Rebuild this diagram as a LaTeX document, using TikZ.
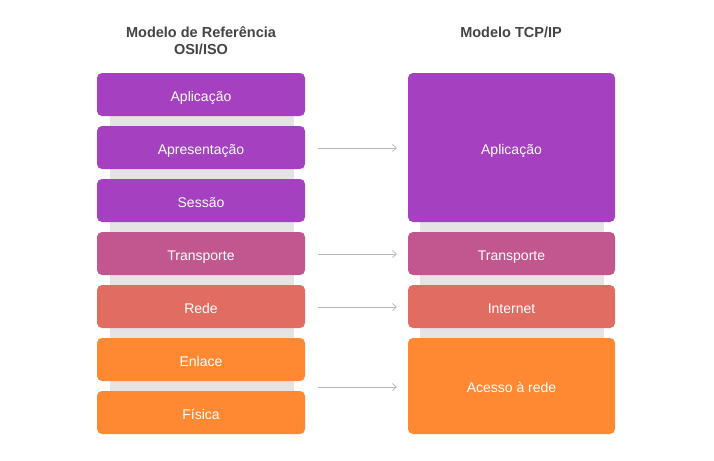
\documentclass[tikz,border=0pt]{standalone}
\usepackage{fontspec}
\setmainfont{Liberation Sans}
\usetikzlibrary{arrows.meta}
\definecolor{cpurple}{HTML}{A541C1}
\definecolor{cpink}{HTML}{C2578F}
\definecolor{cred}{HTML}{E06C62}
\definecolor{corange}{HTML}{FF8833}
\definecolor{cstrip}{HTML}{E4E4E4}
\definecolor{ctitle}{HTML}{444444}
\definecolor{carrow}{HTML}{BBBBBB}
\begin{document}
\begin{tikzpicture}[x=1pt,y=-1pt,
  layer/.style={draw=none,text=white,inner sep=0pt,anchor=base,font=\fontsize{14}{16}\selectfont},
  ttl/.style={font=\bfseries\fontsize{14.5}{17}\selectfont,text=ctitle,align=center},
  conn/.style={draw=carrow,line width=0.8pt,-{Straight Barb[length=4pt,width=7pt]}}]
\useasboundingbox (0,0) rectangle (714,460);
% strips
\fill[cstrip] (110,100) rectangle (294,410);
\fill[cstrip] (420,100) rectangle (604,410);
% titles
\node[ttl] (t1) at (201,41) {Modelo de Referência\\OSI/ISO};
\node[ttl] (t2) at (511,32) {Modelo TCP/IP};
% left layers
\foreach \n/\c/\t/\y in {la/cpurple/Aplicação/73,lp/cpurple/Apresentação/126,ls/cpurple/Sessão/179,lt/cpink/Transporte/232,lr/cred/Rede/285,le/corange/Enlace/338,lf/corange/Física/391}{
  \fill[\c,rounded corners=5pt] (97,\y) rectangle (305,\y+43);
  \node[layer] (\n) at (201,\y+28.5) {\t};
}
% right layers
\fill[cpurple,rounded corners=5pt] (408,73) rectangle (615,222);
\node[layer] (ra) at (511.5,154) {Aplicação};
\fill[cpink,rounded corners=5pt] (408,232) rectangle (615,275);
\node[layer] (rt) at (511.5,260.5) {Transporte};
\fill[cred,rounded corners=5pt] (408,285) rectangle (615,328);
\node[layer] (ri) at (511.5,313.5) {Internet};
\fill[corange,rounded corners=5pt] (408,338) rectangle (615,434);
\node[layer] (rx) at (511.5,392.5) {Acesso à rede};
% arrows
\coordinate (a1s) at (318,148); \coordinate (a1e) at (397,148);
\coordinate (a2s) at (318,254); \coordinate (a2e) at (397,254);
\coordinate (a3s) at (318,307); \coordinate (a3e) at (397,307);
\coordinate (a4s) at (318,387); \coordinate (a4e) at (397,387);
\draw[conn] (a1s) -- (a1e);
\draw[conn] (a2s) -- (a2e);
\draw[conn] (a3s) -- (a3e);
\draw[conn] (a4s) -- (a4e);
\end{tikzpicture}
\end{document}
